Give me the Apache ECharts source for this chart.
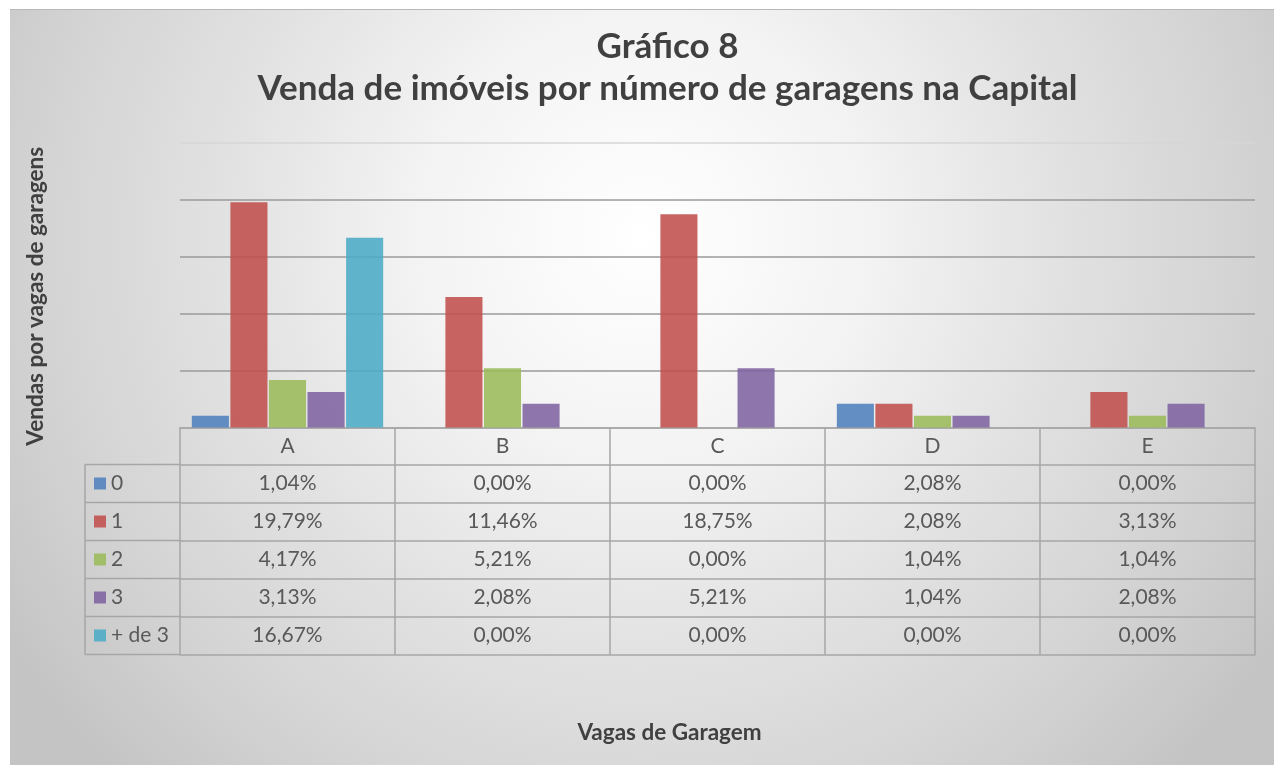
<!DOCTYPE html>
<html>
<head>
<meta charset="utf-8">
<script src="https://cdn.jsdelivr.net/npm/echarts@6/dist/echarts.min.js"></script>
<style>
  html, body { margin: 0; padding: 0; background: #fff; }
  #chart { position: absolute; left: 10px; top: 9px; width: 1264px; height: 755px; border-top: 1px solid #b8b8b8; }
</style>
</head>
<body>
<div id="chart"></div>
<script>
  // dados do gráfico
  var categorias = ['A', 'B', 'C', 'D', 'E'];
  var nomesSeries = ['0', '1', '2', '3', '+ de 3'];
  var vagas0 = [1.04, 0.00, 0.00, 2.08, 0.00];
  var vagas1 = [19.79, 11.46, 18.75, 2.08, 3.13];
  var vagas2 = [4.17, 5.21, 0.00, 1.04, 1.04];
  var vagas3 = [3.13, 2.08, 5.21, 1.04, 2.08];
  var vagasMais3 = [16.67, 0.00, 0.00, 0.00, 0.00];
  var valores = [vagas0, vagas1, vagas2, vagas3, vagasMais3];
  var cores = ['#4f81bd', '#c0504d', '#9bbb59', '#8064a2', '#4bacc6'];

  // layout da tabela (px, dentro do gráfico)
  var gridLeft = 170, gridRight = 19, gridTop = 133, gridBottom = 337.5;
  var alturaCabecalho = 37, alturaLinha = 38;
  var baseY = 755 - gridBottom;
  var legendaX = 75;
  var corLinha = '#a6a6a6';
  var fonte = 'Lato, "Noto Sans", sans-serif';
  var tamTabela = 21;

  function fmt(v) {
      return v.toFixed(2).replace('.', ',') + '%';
  }

  var chart = echarts.init(document.getElementById('chart'));

  // eixo do cabeçalho + um eixo por linha da tabela
  var xAxes = [{
      type: 'category',
      data: categorias,
      position: 'bottom',
      offset: 0,
      axisLine: { lineStyle: { color: corLinha, width: 1.5 } },
      axisTick: { show: true, interval: 0, length: alturaCabecalho, lineStyle: { color: corLinha, width: 1.5 } },
      axisLabel: { interval: 0, margin: 8, fontSize: tamTabela, color: '#595959', fontFamily: fonte }
  }];
  valores.forEach(function (serie, i) {
      xAxes.push({
          type: 'category',
          data: categorias,
          position: 'bottom',
          offset: alturaCabecalho + alturaLinha * i,
          axisLine: { lineStyle: { color: corLinha, width: 1.5 } },
          axisTick: { show: true, interval: 0, length: alturaLinha, lineStyle: { color: corLinha, width: 1.5 } },
          axisLabel: {
              interval: 0, margin: 8.5, fontSize: tamTabela, color: '#595959', fontFamily: fonte,
              formatter: function (v, idx) { return fmt(serie[idx]); }
          }
      });
  });
  // linha de baixo da tabela
  xAxes.push({
      type: 'category',
      data: categorias,
      position: 'bottom',
      offset: alturaCabecalho + alturaLinha * valores.length,
      axisLine: { lineStyle: { color: corLinha, width: 1.5 } },
      axisTick: { show: false },
      axisLabel: { show: false }
  });

  // bordas da coluna da legenda
  var linhas = [];
  for (var i = 0; i <= valores.length; i++) {
      var y = baseY + alturaCabecalho + alturaLinha * i;
      linhas.push({ type: 'line', shape: { x1: legendaX, y1: y, x2: gridLeft, y2: y }, style: { stroke: corLinha, lineWidth: 1.5 } });
  }
  linhas.push({
      type: 'line',
      shape: { x1: legendaX, y1: baseY + alturaCabecalho, x2: legendaX, y2: baseY + alturaCabecalho + alturaLinha * valores.length },
      style: { stroke: corLinha, lineWidth: 1.5 }
  });

  var option = {
      backgroundColor: {
          type: 'radial', x: 0.5, y: 0.3, r: 1.0,
          colorStops: [
              { offset: 0, color: '#ffffff' },
              { offset: 0.3, color: '#f3f3f3' },
              { offset: 0.55, color: '#e2e2e2' },
              { offset: 0.8, color: '#d3d3d3' },
              { offset: 1, color: '#c4c4c4' }
          ]
      },
      color: cores,
      title: [{
          text: 'Gráfico 8\nVenda de imóveis por número de garagens na Capital',
          left: 652.5,
          textAlign: 'center',
          top: 11,
          textStyle: { fontSize: 35, fontWeight: 'bold', color: '#404040', lineHeight: 42, fontFamily: fonte }
      }, {
          text: 'Vagas de Garagem',
          left: 654.5,
          textAlign: 'center',
          top: 706,
          textStyle: { fontSize: 22.5, fontWeight: 'bold', color: '#404040', fontFamily: fonte }
      }],
      legend: {
          data: nomesSeries,
          orient: 'vertical',
          left: 84,
          top: baseY + alturaCabecalho,
          padding: 0,
          itemGap: 0,
          icon: 'rect',
          itemWidth: 12,
          itemHeight: 12,
          selectedMode: false,
          textStyle: { fontSize: tamTabela, color: '#595959', lineHeight: alturaLinha, fontFamily: fonte }
      },
      grid: { left: gridLeft, right: gridRight, top: gridTop, bottom: gridBottom, containLabel: false },
      xAxis: xAxes,
      yAxis: {
          type: 'value',
          min: 0,
          max: 25,
          interval: 5,
          name: 'Vendas por vagas de garagens',
          nameLocation: 'middle',
          nameGap: 133,
          nameTextStyle: { fontSize: 22.5, fontWeight: 'bold', color: '#404040', fontFamily: fonte, padding: [0, 22, 0, 0] },
          axisLine: { show: false },
          axisTick: { show: false },
          axisLabel: { show: false },
          splitLine: { lineStyle: { color: ['#a6a6a6', '#9a9a9a', '#9a9a9a', '#9a9a9a', '#9a9a9a', '#d6d6d6'], width: 1.5 } }
      },
      graphic: linhas,
      series: nomesSeries.map(function (nome, i) {
          return {
              name: nome,
              type: 'bar',
              data: valores[i],
              barGap: '4%',
              barCategoryGap: '11%',
              itemStyle: { opacity: 0.88 }
          };
      })
  };

  chart.setOption(option);
</script>
</body>
</html>
